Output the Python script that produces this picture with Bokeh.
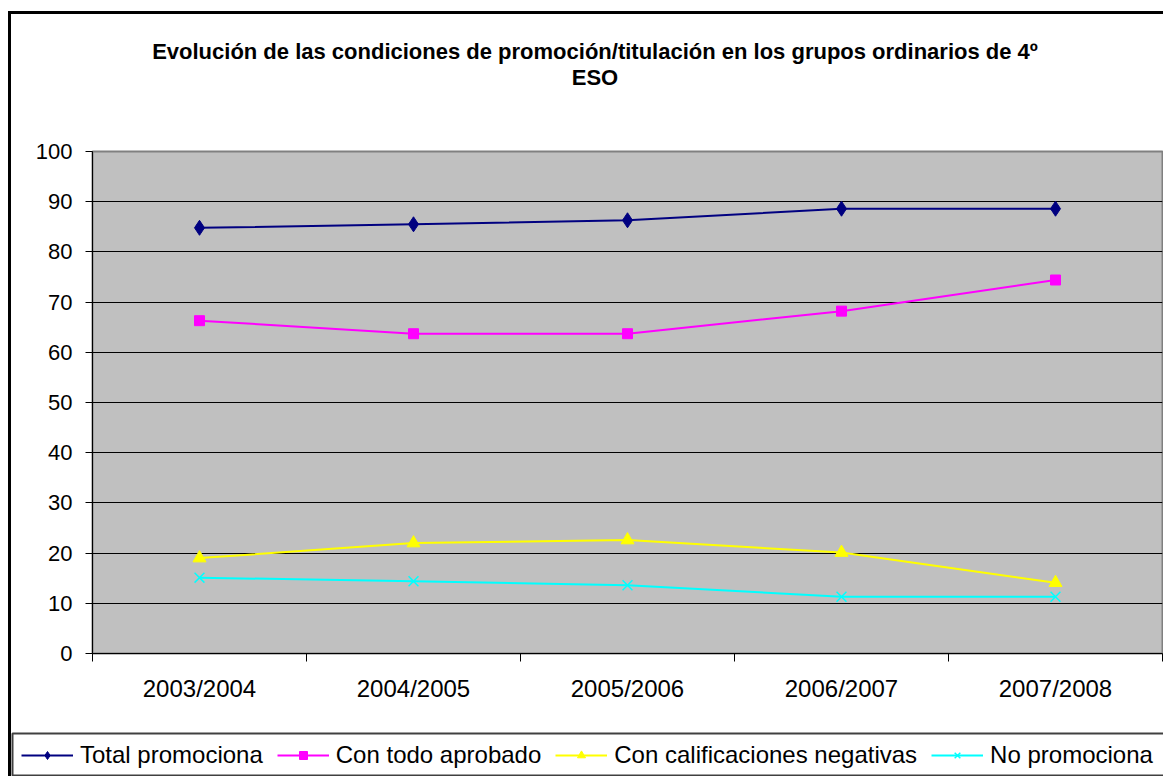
from bokeh.plotting import figure
from bokeh.models import (Legend, LegendItem, FixedTicker, Label,
                          Range1d, FactorRange, LinearAxis, CategoricalAxis)
from bokeh.embed import file_html
from bokeh.resources import INLINE

# ---- data ----
years = ["2003/2004", "2004/2005", "2005/2006", "2006/2007", "2007/2008"]
total_promociona = [84.8, 85.5, 86.3, 88.6, 88.6]
con_todo_aprobado = [66.3, 63.7, 63.7, 68.2, 74.4]
con_calif_negativas = [19.0, 22.0, 22.6, 20.1, 14.1]
no_promociona = [15.1, 14.4, 13.6, 11.3, 11.3]
y_ticks = [0, 10, 20, 30, 40, 50, 60, 70, 80, 90, 100]
boundary_ticks = [0, 1, 2, 3, 4, 5]   # category boundaries (synthetic coords)
title_line1 = "Evolución de las condiciones de promoción/titulación en los grupos ordinarios de 4º"
title_line2 = "ESO"

FONT = "Liberation Sans"
W = 1155
H_TITLE, H_MAIN, H_LEG = 106, 613, 46

# ---------------- title strip ----------------
pt = figure(width=W, height=H_TITLE, x_range=Range1d(0, W), y_range=Range1d(H_TITLE, 0),
            output_backend="svg", toolbar_location=None, x_axis_location=None,
            y_axis_location=None, min_border=0)
pt.outline_line_color = None
pt.xgrid.visible = False
pt.ygrid.visible = False
for txt, yc in [(title_line1, 37), (title_line2, 63)]:
    pt.add_layout(Label(x=583.5, y=yc, text=txt, text_align="center", text_baseline="middle",
                        text_font=FONT, text_font_size="22px", text_font_style="bold",
                        text_color="black"))
pt.styles = {"margin-left": "8px", "margin-top": "11px",
             "border-left": "3px solid black", "border-top": "3px solid black"}

# ---------------- main chart ----------------
p = figure(width=W, height=H_MAIN, x_range=FactorRange(*years, range_padding=0),
           y_range=Range1d(0, 100), output_backend="svg", toolbar_location=None,
           x_axis_location=None, y_axis_location=None,
           min_border_left=81, min_border_right=4, min_border_top=34, min_border_bottom=77)
p.styles = {"margin-left": "8px", "border-left": "3px solid black"}
p.background_fill_color = "#C0C0C0"
p.border_fill_color = "white"
p.outline_line_color = "#808080"
p.outline_line_width = 2

yax = LinearAxis(ticker=FixedTicker(ticks=y_ticks), major_tick_out=7, major_tick_in=0,
                 minor_tick_line_color=None, axis_line_color="black",
                 major_tick_line_color="black", major_label_standoff=13,
                 major_label_text_font=FONT, major_label_text_font_size="22px",
                 major_label_text_color="black")
p.add_layout(yax, "left")

tax = LinearAxis(ticker=FixedTicker(ticks=[], minor_ticks=boundary_ticks),
                 major_tick_out=8, major_tick_in=0, minor_tick_out=8, minor_tick_in=0,
                 minor_tick_line_color="black", axis_line_color="black",
                 major_tick_line_color="black", major_label_standoff=0)
p.add_layout(tax, "below")
cax = CategoricalAxis(axis_line_color=None, major_tick_line_color=None, major_tick_out=0,
                      major_tick_in=0, major_label_standoff=13, major_label_text_font=FONT,
                      major_label_text_font_size="24px", major_label_text_color="black")
p.add_layout(cax, "below")

p.ygrid.ticker = FixedTicker(ticks=y_ticks)
p.ygrid.grid_line_color = "black"
p.ygrid.grid_line_width = 1
p.xgrid.grid_line_color = None

series = [
    ("Total promociona", total_promociona, "#000080", "diamond", 15),
    ("Con todo aprobado", con_todo_aprobado, "#FF00FF", "square", 10),
    ("Con calificaciones negativas", con_calif_negativas, "#FFFF00", "triangle", 13),
    ("No promociona", no_promociona, "#00FFFF", "x", 14),
]

# ---------------- legend strip ----------------
pl = figure(width=W, height=H_LEG, x_range=FactorRange(*years), y_range=Range1d(200, 300),
            output_backend="svg", toolbar_location=None, x_axis_location=None,
            y_axis_location=None, min_border_left=1, min_border_right=0,
            min_border_top=3, min_border_bottom=0)
pl.styles = {"margin-left": "8px", "border-left": "3px solid black"}
pl.outline_line_color = "#404040"
pl.outline_line_width = 2
pl.xgrid.visible = False
pl.ygrid.visible = False


def draw(fig, vals, col, mk, sz, visible=True):
    lr = fig.line(years, vals, line_color=col, line_width=2, visible=visible)
    if mk == "x":
        sr = fig.scatter(years, vals, marker=mk, size=sz, line_color=col, line_width=1.5,
                         visible=visible)
    else:
        sr = fig.scatter(years, vals, marker=mk, size=sz, fill_color=col,
                         line_color=col, visible=visible)
    return lr, sr


items = []
for label, vals, col, mk, sz in series:
    draw(p, vals, col, mk, sz)
    ll, ls = draw(pl, vals, col, mk, sz, visible=False)   # legend swatches only
    items.append(LegendItem(label=label, renderers=[ll, ls]))

legend = Legend(items=items, orientation="horizontal", location="left",
                label_text_font=FONT, label_text_font_size="24px", label_text_color="black",
                glyph_width=52, glyph_height=20, label_standoff=7, spacing=14,
                padding=1, margin=8, border_line_alpha=0, background_fill_alpha=0)
pl.add_layout(legend, "center")

open("out.html", "w").write(file_html([pt, p, pl], INLINE))
